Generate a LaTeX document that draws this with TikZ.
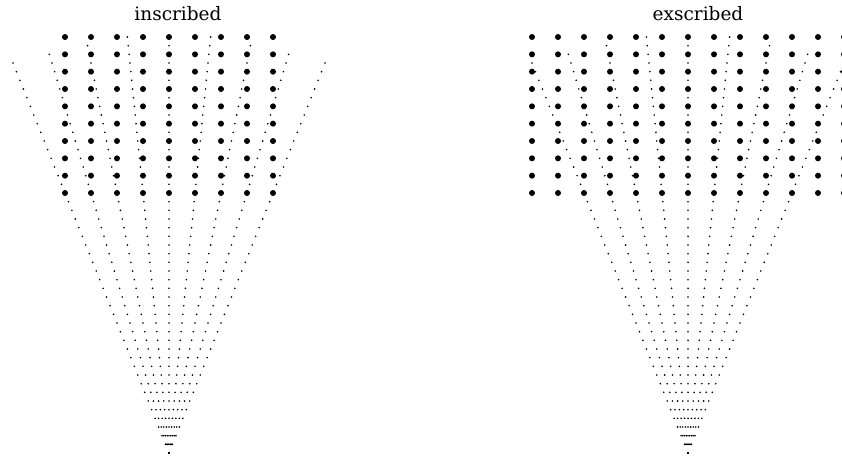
\documentclass[tikz,border=0pt]{standalone}
\usepackage{fontspec}
\setmainfont{DejaVu Serif}
\begin{document}
\begin{tikzpicture}[x=1pt,y=-1pt,
  gridpt/.style={fill=black},
  raypt/.style={fill=black},
  paneltitle/.style={anchor=base,inner sep=0pt,font=\fontsize{18.5pt}{20pt}\selectfont}]
\useasboundingbox (0,0) rectangle (842,458);
\clip (0,0) rectangle (842,458);
\fill[white] (0,0) rectangle (842,458);
% panels: centre x / half number of grid columns
\foreach \cx/\h in {169/4,688/6}{
  % sampled rays of the fan
  \foreach \k/\m in {-4/45,-3/46,-2/47,-1/48,0/48,1/48,2/47,3/46,4/45}{
    \foreach \n in {0,...,\m}{
      \fill[raypt] ({\cx+0.1*\k*\n*8.6667},{453-\n*8.6667}) circle[radius=0.9];
    }
  }
  % cartesian grid
  \foreach \j in {-\h,...,\h}{
    \foreach \i in {0,...,9}{
      \fill[gridpt] ({\cx+26*\j},{37+17.3333*\i}) circle[radius=3];
    }
  }
}
\node[paneltitle] (tin) at (178,20) {inscribed};
\node[paneltitle] (tex) at (698,20) {exscribed};
\end{tikzpicture}
\end{document}
